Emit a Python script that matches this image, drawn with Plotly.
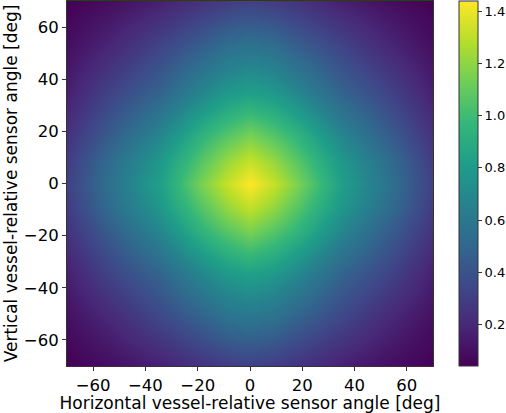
import plotly.graph_objects as go

# Angles (deg) of the sampled grid in one quadrant (mirrored to full range)
angles_quadrant = [0, 8.75, 17.5, 35, 52.5, 70]

# Values, quadrant rows for vertical angle 0, 8.75, 17.5, 35, 52.5, 70
row_v00 = [1.44, 1.32, 1.17, 0.82, 0.58, 0.31]
row_v09 = [1.32, 1.22, 1.08, 0.78, 0.55, 0.29]
row_v18 = [1.17, 1.08, 0.97, 0.69, 0.47, 0.25]
row_v35 = [0.82, 0.78, 0.69, 0.48, 0.33, 0.16]
row_v53 = [0.58, 0.55, 0.47, 0.33, 0.20, 0.095]
row_v70 = [0.31, 0.29, 0.25, 0.16, 0.095, 0.04]

x_ticks = [-60, -40, -20, 0, 20, 40, 60]
cbar_ticks = [0.2, 0.4, 0.6, 0.8, 1.0, 1.2, 1.4]

quad_rows = [row_v00, row_v09, row_v18, row_v35, row_v53, row_v70]

def mirror(seq, neg=False):
    left = [(-a if neg else a) for a in reversed(seq[1:])]
    return left + list(seq)

axis_full = mirror(angles_quadrant, neg=True)
rows_full = [mirror(r) for r in quad_rows]
z = mirror(rows_full)  # mirror rows to negative vertical angles

def fmt(v):
    return ("\u2212" + str(abs(v))) if v < 0 else str(v)

FONT = "DejaVu Sans"

fig = go.Figure(go.Heatmap(
    x=axis_full, y=axis_full, z=z,
    colorscale="Viridis", zmin=0.04, zmax=1.44, zsmooth="best",
    colorbar=dict(
        x=(459 - 67) / 366, xanchor="left", xref="paper",
        y=0.5, yanchor="middle", len=1.0, lenmode="fraction",
        thickness=19, outlinewidth=1, outlinecolor="#333",
        tickvals=cbar_ticks, ticktext=["%.1f" % t for t in cbar_ticks],
        ticks="outside", ticklen=4, tickwidth=1, tickcolor="#333",
        tickfont=dict(family=FONT, size=13, color="black"),
        xpad=0, ypad=0,
    ),
))

axis_common = dict(
    range=[-70, 70], showgrid=False, zeroline=False, automargin=False,
    showline=True, linecolor="#333", linewidth=1, mirror=True,
    ticks="outside", ticklen=4, tickwidth=1, tickcolor="#333",
    tickvals=x_ticks, ticktext=[fmt(t) for t in x_ticks],
    tickfont=dict(family=FONT, size=16.5, color="black"),
)

fig.update_layout(
    width=506, height=413,
    margin=dict(l=67, r=73, t=1, b=47, autoexpand=False),
    paper_bgcolor="white", plot_bgcolor="white",
    xaxis=dict(axis_common, title=dict(text="Horizontal vessel-relative sensor angle [deg]",
               font=dict(family=FONT, size=17, color="black"), standoff=1)),
    yaxis=dict(axis_common, title=dict(text="Vertical vessel-relative sensor angle [deg]",
               font=dict(family=FONT, size=17, color="black"), standoff=1)),
)

fig.write_html("out.html", config={"displayModeBar": False},
               post_script="document.body.style.margin='0';")
